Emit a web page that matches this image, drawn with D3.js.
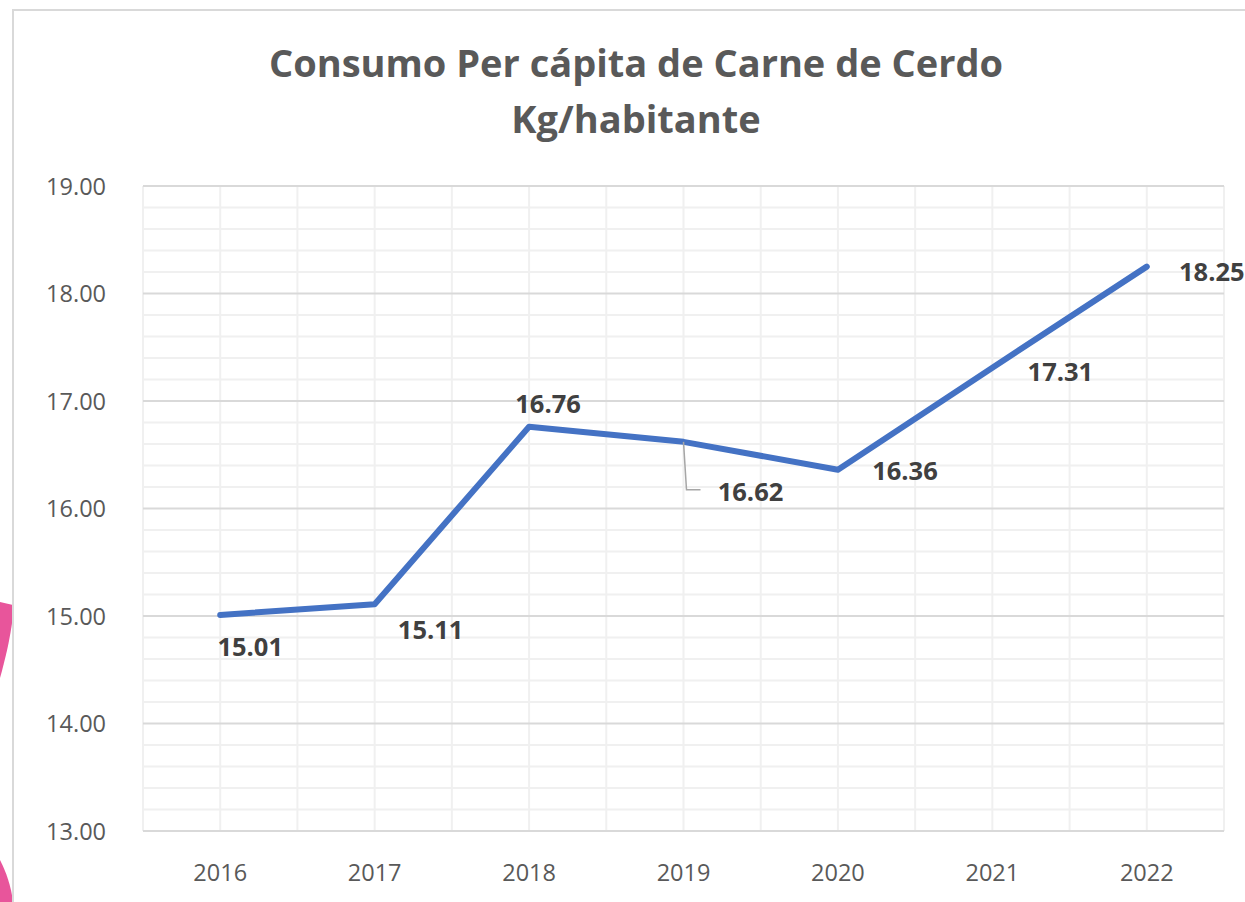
<!DOCTYPE html>
<html>
<head>
<meta charset="utf-8">
<script src="https://cdn.jsdelivr.net/npm/d3@7"></script>
<style>
  body { margin: 0; background: #fff; overflow: hidden; }
  svg { display: block; font-family: "Open Sans", sans-serif; }
</style>
</head>
<body>
<div class="chart"></div>
<script>
// data
const years = ["2016", "2017", "2018", "2019", "2020", "2021", "2022"];
const consumo = [15.01, 15.11, 16.76, 16.62, 16.36, 17.31, 18.25];
const yTicks = [13, 14, 15, 16, 17, 18, 19];

// label placement per point (excel-ish), offsets from the point
const labelPlace = [
  {dx: 30, dy: 41}, {dx: 56, dy: 35}, {dx: 19, dy: -14},
  {dx: 67, dy: 59, leader: true}, {dx: 67, dy: 10}, {dx: 68, dy: 13}, {dx: 65, dy: 14}
];

const width = 1245, height = 902;
const margin = {top: 186, right: 21, bottom: 71, left: 143};

const svg = d3.select(".chart").append("svg")
  .attr("width", width)
  .attr("height", height);

// pink shapes peeking in on the left edge
svg.append("path")
  .attr("d", "M0,602 L13,605 L13,616 C10,640 5,660 0,678 Z")
  .attr("fill", "#e8559b");
svg.append("path")
  .attr("d", "M0,860 C6,872 11,885 13,902 L0,902 Z")
  .attr("fill", "#e8559b");

// chart frame
svg.append("rect")
  .attr("x", 13).attr("y", 10)
  .attr("width", width + 20).attr("height", height + 20)
  .attr("fill", "white")
  .attr("stroke", "#d9d9d9")
  .attr("stroke-width", 2);

const x = d3.scaleBand()
  .domain(years)
  .range([margin.left, width - margin.right]);

const y = d3.scaleLinear()
  .domain([13, 19])
  .range([height - margin.bottom, margin.top]);

const cx = d => x(d) + x.bandwidth() / 2;

// minor horizontal grid (0.2)
const minor = d3.range(13, 19.001, 0.2).map(v => +v.toFixed(1)).filter(v => !yTicks.includes(v));
svg.append("g")
  .selectAll("line")
  .data(minor)
  .join("line")
  .attr("x1", margin.left).attr("x2", width - margin.right)
  .attr("y1", d => y(d)).attr("y2", d => y(d))
  .attr("stroke", "#f0f0f0").attr("stroke-width", 2);

// vertical grid: band edges and band centers
const vx = [];
years.forEach(d => { vx.push(x(d)); vx.push(cx(d)); });
vx.push(width - margin.right);
svg.append("g")
  .selectAll("line")
  .data(vx)
  .join("line")
  .attr("x1", d => d).attr("x2", d => d)
  .attr("y1", y(19)).attr("y2", y(13))
  .attr("stroke", "#f0f0f0").attr("stroke-width", 2);

// major horizontal grid
svg.append("g")
  .selectAll("line")
  .data(yTicks)
  .join("line")
  .attr("x1", margin.left).attr("x2", width - margin.right)
  .attr("y1", d => y(d)).attr("y2", d => y(d))
  .attr("stroke", "#d9d9d9").attr("stroke-width", 2);

// y axis labels
svg.append("g")
  .attr("transform", `translate(${margin.left - 34},0)`)
  .call(d3.axisLeft(y).tickValues(yTicks).tickFormat(d3.format(".2f")).tickSize(0))
  .call(g => g.select(".domain").remove())
  .selectAll("text")
  .attr("font-family", "Open Sans, sans-serif")
  .attr("font-size", 23.5)
  .attr("fill", "#595959")
  .attr("dy", "0.35em");

// x axis labels
svg.append("g")
  .attr("transform", `translate(0,${height - margin.bottom})`)
  .call(d3.axisBottom(x).tickSize(0))
  .call(g => g.select(".domain").remove())
  .selectAll("text")
  .attr("font-family", "Open Sans, sans-serif")
  .attr("font-size", 23.5)
  .attr("fill", "#595959")
  .attr("y", 50)
  .attr("dy", 0);

// title
const title = svg.append("text")
  .attr("text-anchor", "middle")
  .attr("font-weight", 700)
  .attr("font-size", 38)
  .attr("fill", "#595959");
title.append("tspan").attr("x", 636).attr("y", 77).text("Consumo Per cápita de Carne de Cerdo");
title.append("tspan").attr("x", 636).attr("y", 133).text("Kg/habitante");

// line
const line = d3.line()
  .x((d, i) => cx(years[i]))
  .y(d => y(d));

svg.append("path")
  .datum(consumo)
  .attr("d", line)
  .attr("fill", "none")
  .attr("stroke", "#4472c4")
  .attr("stroke-width", 6)
  .attr("stroke-linecap", "round")
  .attr("stroke-linejoin", "round");

// leader line for 2019
consumo.forEach((v, i) => {
  const p = labelPlace[i];
  if (!p.leader) return;
  const px = cx(years[i]), py = y(v);
  svg.append("path")
    .attr("d", `M${px},${py} L${px + 3},${py + p.dy - 11} L${px + 17},${py + p.dy - 11}`)
    .attr("fill", "none")
    .attr("stroke", "#a6a6a6")
    .attr("stroke-width", 1.5);
});

// data labels
svg.append("g")
  .selectAll("text")
  .data(consumo)
  .join("text")
  .attr("x", (d, i) => cx(years[i]) + labelPlace[i].dx)
  .attr("y", (d, i) => y(d) + labelPlace[i].dy)
  .attr("text-anchor", "middle")
  .attr("font-weight", 700)
  .attr("font-size", 25.5)
  .attr("fill", "#404040")
  .text(d => d3.format(".2f")(d));
</script>
</body>
</html>
